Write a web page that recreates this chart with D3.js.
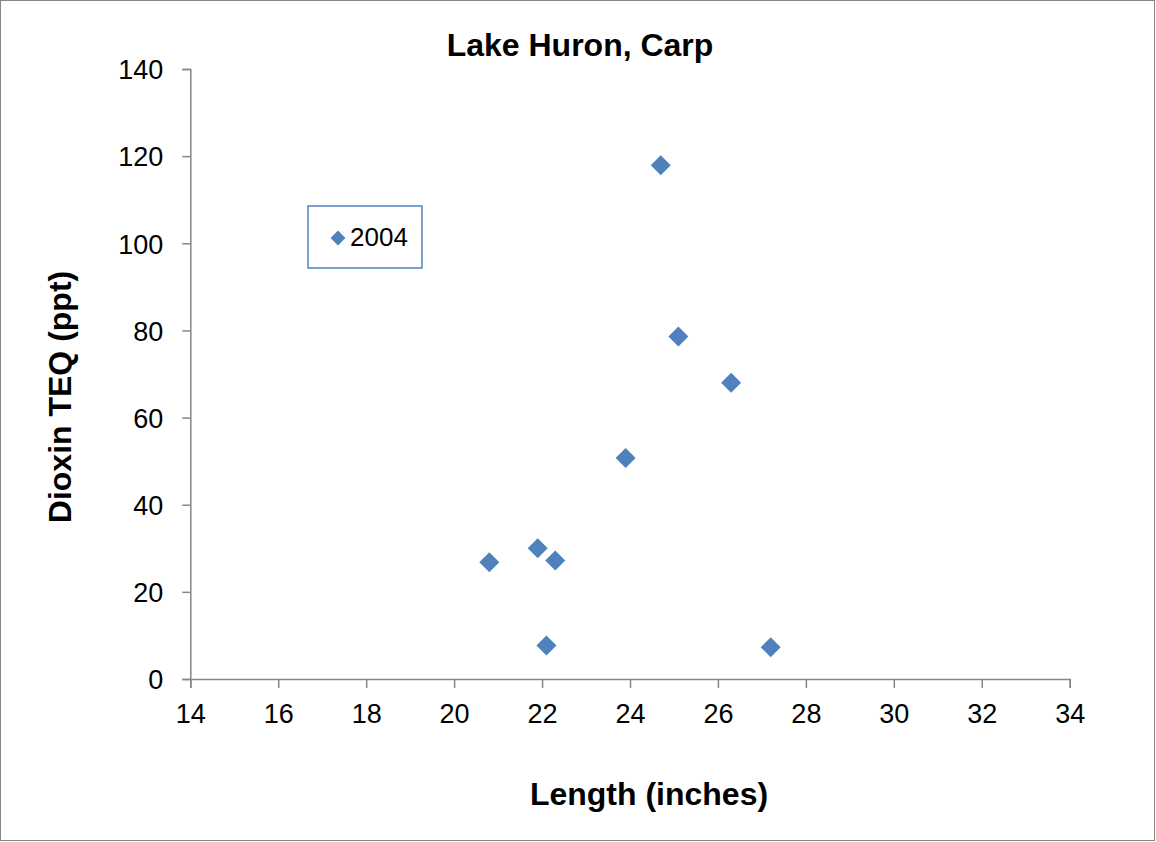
<!DOCTYPE html>
<html><head><meta charset="utf-8">
<script src="https://cdn.jsdelivr.net/npm/d3@7"></script>
<style>body{margin:0;background:#fff}svg{display:block}</style>
</head><body>
<svg id="c" width="1156" height="842"></svg>
<script>
const lengths = [20.8, 21.9, 22.3, 22.1, 23.9, 24.7, 25.1, 26.3, 27.2];
const teq     = [26.8, 30.0, 27.2, 7.7, 50.7, 117.9, 78.6, 68.0, 7.3];
const xTicks = [14,16,18,20,22,24,26,28,30,32,34];
const yTicks = [0,20,40,60,80,100,120,140];
const seriesName = "2004";
const title = "Lake Huron, Carp";
const xTitle = "Length (inches)";
const yTitle = "Dioxin TEQ (ppt)";

const svg = d3.select("#c");
const font = "'Liberation Sans', Arial, sans-serif";
const axisColor = "#868686";
const blue = "#4f81bd";

svg.append("rect").attr("x",0.5).attr("y",0.5).attr("width",1154).attr("height",840)
  .attr("fill","#fff").attr("stroke",axisColor).attr("stroke-width",1);

const x = d3.scaleLinear().domain([14,34]).range([190.3,1069.7]);
const y = d3.scaleLinear().domain([0,140]).range([679,69]);

const gx = svg.append("g").attr("transform","translate(0,679)")
  .call(d3.axisBottom(x).tickValues(xTicks).tickSize(9).tickFormat(d3.format("d")));
const gy = svg.append("g").attr("transform","translate(190.3,0)")
  .call(d3.axisLeft(y).tickValues(yTicks).tickSize(8).tickFormat(d3.format("d")));
[gx,gy].forEach(g=>{
  g.selectAll("path,line").attr("stroke",axisColor).attr("stroke-width",1.5);
  g.selectAll("text").attr("font-family",font).attr("font-size",27).attr("fill","#000");
});
gx.selectAll("text").attr("y",44).attr("dy",0);
gy.selectAll("text").attr("x",-27).attr("dy","0.36em");

const diamond = d3.symbol().type(d3.symbolSquare).size(200);
svg.append("g").selectAll("path").data(lengths.map((l,i)=>[l,teq[i]])).join("path")
  .attr("d",diamond)
  .attr("transform",d=>`translate(${x(d[0])},${y(d[1])}) rotate(45)`)
  .attr("fill",blue);

svg.append("text").attr("x",580).attr("y",56).attr("text-anchor","middle")
  .attr("font-family",font).attr("font-weight","bold").attr("font-size",32).text(title);
svg.append("text").attr("x",649).attr("y",805).attr("text-anchor","middle")
  .attr("font-family",font).attr("font-weight","bold").attr("font-size",32).text(xTitle);
svg.append("text").attr("transform","translate(71,397) rotate(-90)").attr("text-anchor","middle")
  .attr("font-family",font).attr("font-weight","bold").attr("font-size",32).text(yTitle);

// legend
const lg = svg.append("g");
lg.append("rect").attr("x",308).attr("y",206).attr("width",114).attr("height",62)
  .attr("fill","#fff").attr("stroke",blue).attr("stroke-width",1.5);
lg.append("path").attr("d",d3.symbol().type(d3.symbolSquare).size(110))
  .attr("transform","translate(338,238) rotate(45)").attr("fill",blue);
lg.append("text").attr("x",350).attr("y",246).attr("font-family",font).attr("font-size",26).text(seriesName);
</script>
</body></html>
